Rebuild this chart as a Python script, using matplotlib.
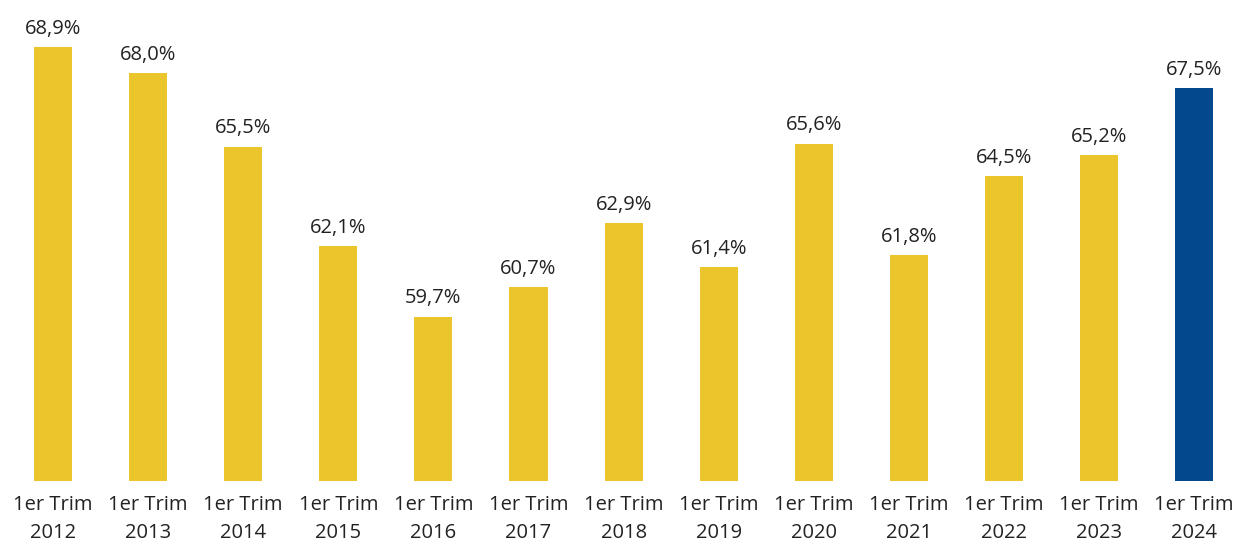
import matplotlib
matplotlib.use('Agg')
from matplotlib import pyplot as plt

plt.rcParams['font.family'] = ['Open Sans', 'DejaVu Sans']

years = ['2012', '2013', '2014', '2015', '2016', '2017', '2018', '2019',
         '2020', '2021', '2022', '2023', '2024']
values = [68.9, 68.0, 65.5, 62.1, 59.7, 60.7, 62.9, 61.4, 65.6, 61.8, 64.5, 65.2, 67.5]
labels = ['1er Trim\n' + y for y in years]

yellow = '#EAC52B'
blue = '#03478C'
colors = [yellow] * (len(values) - 1) + [blue]

fig = plt.figure(figsize=(12.37, 5.44), dpi=100)
ax = fig.add_axes([0, 0.1158, 1, 0.8842])

x = list(range(len(values)))
ymin = 54.1
ax.bar(x, [v - ymin for v in values], bottom=ymin, width=0.4, color=colors)

for xi, v in zip(x, values):
    ax.annotate(f'{v:.1f}%'.replace('.', ','), (xi, v), xytext=(0, 6),
                textcoords='offset points', ha='center', va='bottom',
                fontsize=14.5, color='#222222')

ax.set_xlim(-0.557, 12.45)
ax.set_ylim(ymin, 70.5)
ax.set_xticks(x)
ax.set_xticklabels(labels, fontsize=14.5, color='#222222', linespacing=1.55)
ax.tick_params(axis='x', length=0, pad=10)
ax.set_yticks([])
for s in ax.spines.values():
    s.set_visible(False)

plt.savefig('out.png', dpi=100)
